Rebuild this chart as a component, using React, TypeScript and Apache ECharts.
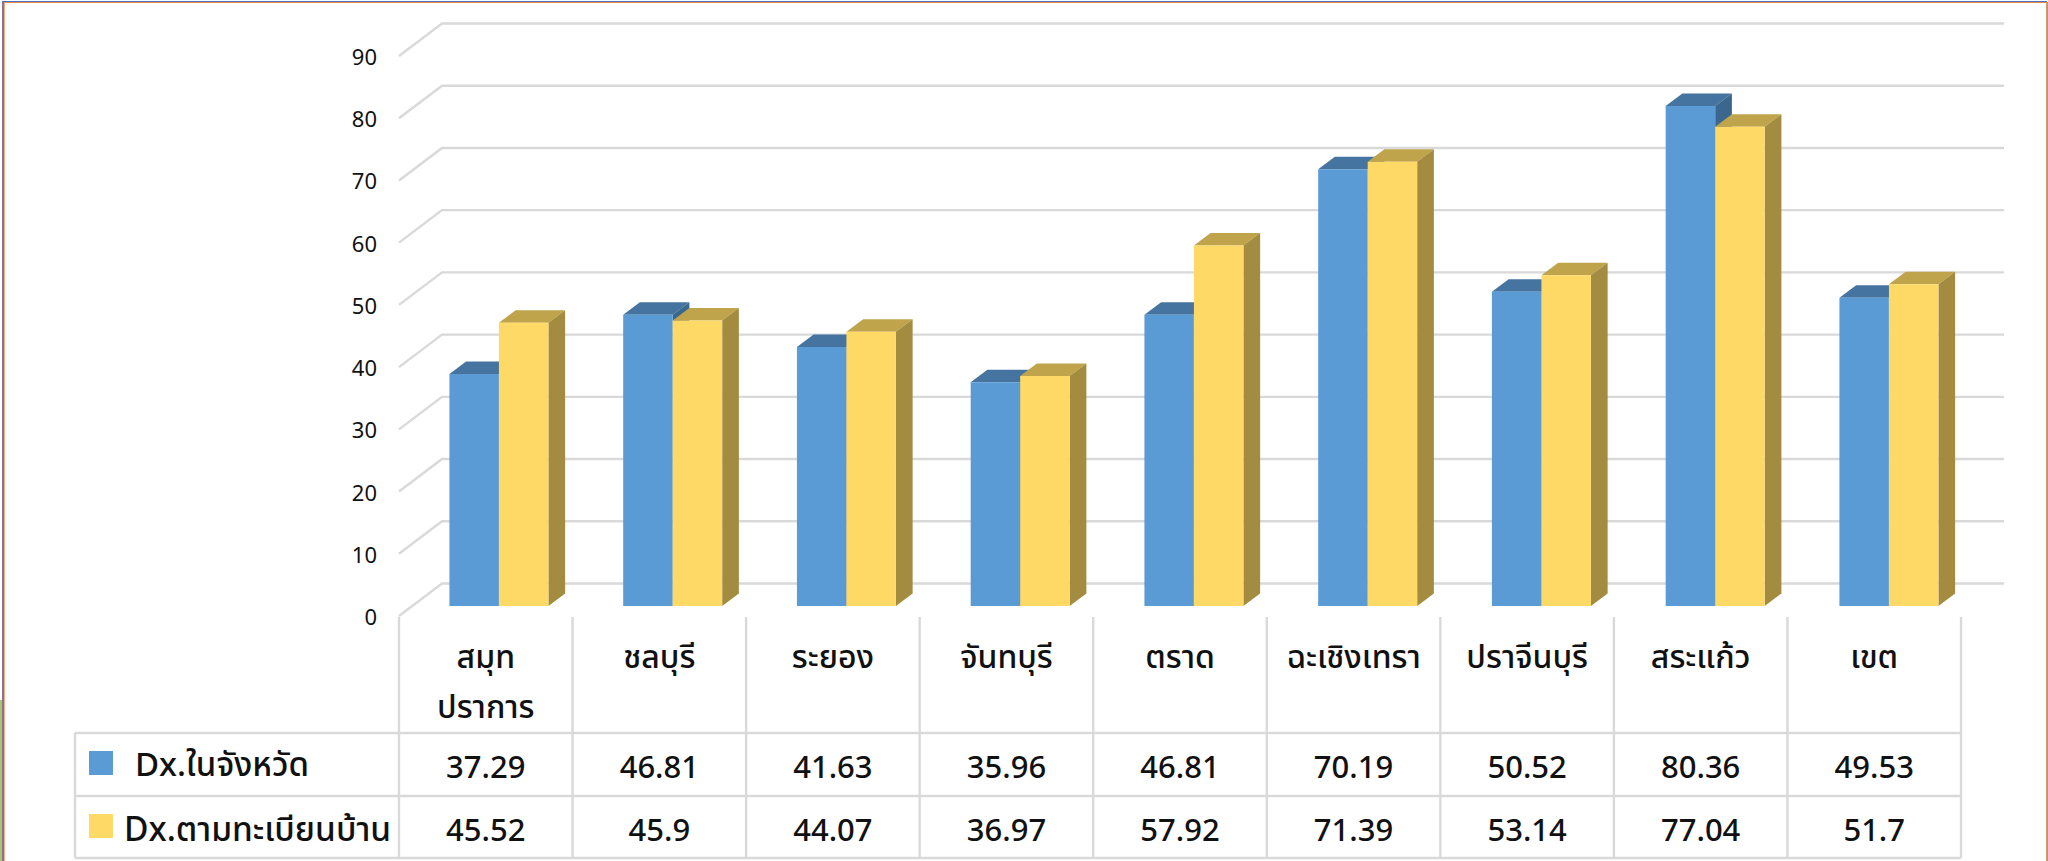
import React, { useEffect, useRef } from "react";
import * as echarts from "echarts";

const categories = ["สมุท\nปราการ", "ชลบุรี", "ระยอง", "จันทบุรี", "ตราด", "ฉะเชิงเทรา", "ปราจีนบุรี", "สระแก้ว", "เขต"];
const seriesNames = ["Dx.ในจังหวัด", "Dx.ตามทะเบียนบ้าน"];
const dxProvince = [37.29, 46.81, 41.63, 35.96, 46.81, 70.19, 50.52, 80.36, 49.53];
const dxRegistry = [45.52, 45.9, 44.07, 36.97, 57.92, 71.39, 53.14, 77.04, 51.7];
const ticks = [0, 10, 20, 30, 40, 50, 60, 70, 80, 90];

const FONT = '"Noto Sans", "Noto Sans Thai", "Liberation Sans", sans-serif';
const TEXT = "#111111";
const GRID = "#d9d9d9";
const BAR_W = 49.5;
const DX = 16.7;
const DY = 12.5;

function bar3d(offsetSign: number, top: string, side: string) {
  return (_p: any, api: any) => {
    const p = api.coord([api.value(0), api.value(1)]);
    const b = api.coord([api.value(0), 0]);
    const x = offsetSign < 0 ? p[0] - BAR_W : p[0];
    const r = x + BAR_W;
    return {
      type: "group",
      children: [
        {
          type: "polygon",
          shape: { points: [[x, p[1]], [r, p[1]], [r + DX, p[1] - DY], [x + DX, p[1] - DY]] },
          style: { fill: top },
        },
        {
          type: "polygon",
          shape: { points: [[r, p[1]], [r + DX, p[1] - DY], [r + DX, b[1] - DY], [r, b[1]]] },
          style: { fill: side },
        },
      ],
    };
  };
}

export default function App() {
  const ref = useRef<HTMLDivElement>(null);
  useEffect(() => {
    const chart = echarts.init(ref.current!, undefined, { renderer: "svg" });
    const TL = 75, T0 = 399, TR = 1961, TOP = 617, R1 = 733, R2 = 796, R3 = 858;
    const step = (TR - T0) / categories.length;
    const line = (x1: number, y1: number, x2: number, y2: number) => ({
      type: "line",
      z: 1,
      shape: { x1, y1, x2, y2 },
      style: { stroke: GRID, lineWidth: 2.4 },
    });
    const tableLines: any[] = [
      line(TL, R1, TR, R1),
      line(TL, R2, TR, R2),
      line(TL, R3, TR, R3),
      line(TL, R1, TL, R3),
    ];
    for (let i = 0; i <= categories.length; i++) {
      tableLines.push(line(T0 + step * i, TOP, T0 + step * i, R3));
    }
    chart.setOption({
      animation: false,
      backgroundColor: "#ffffff",
      textStyle: { fontFamily: FONT },
      grid: [
        { left: T0, top: 56, width: TR - T0, height: 560, containLabel: false },
        { left: 412.05, top: 46, width: 1563.75, height: 560, containLabel: false },
      ],
      xAxis: [
        {
          type: "category",
          gridIndex: 0,
          data: categories,
          axisLine: { show: false },
          axisTick: { show: false },
          axisLabel: {
            interval: 0,
            margin: 14,
            fontSize: 32,
            fontWeight: 500,
            lineHeight: 50,
            verticalAlign: "top",
            color: TEXT,
            fontFamily: FONT,
          },
        },
        { type: "category", gridIndex: 1, data: categories, show: false },
      ],
      yAxis: [
        {
          type: "value",
          gridIndex: 0,
          min: 0,
          max: 90,
          interval: 10,
          axisLine: { show: false },
          axisTick: { show: false },
          splitLine: { show: false },
          axisLabel: { margin: 22, fontSize: 22, color: TEXT, fontFamily: FONT },
        },
        { type: "value", gridIndex: 1, min: 0, max: 90, interval: 10, show: false },
      ],
      graphic: [
        ...tableLines,
        { type: "rect", z: 5, shape: { x: 89, y: 751, width: 24, height: 24 }, style: { fill: "#5B9BD5" } },
        { type: "rect", z: 5, shape: { x: 89, y: 814, width: 24, height: 24 }, style: { fill: "#FFD966" } },
        {
          type: "text", z: 5, x: 135, y: 763,
          style: { text: seriesNames[0], font: `500 33px ${FONT}`, fill: TEXT, verticalAlign: "middle" },
        },
        {
          type: "text", z: 5, x: 124, y: 828,
          style: { text: seriesNames[1], font: `500 33.5px ${FONT}`, fill: TEXT, verticalAlign: "middle" },
        },
        // window frame
        { type: "rect", z: 6, shape: { x: 2, y: 1, width: 2045, height: 1 }, style: { fill: "#4472C4" } },
        { type: "rect", z: 6, shape: { x: 4, y: 2, width: 2042, height: 1 }, style: { fill: "#ED8B45" } },
        { type: "rect", z: 6, shape: { x: 2, y: 2, width: 2, height: 859 }, style: { fill: "#8A7196" } },
        { type: "rect", z: 6, shape: { x: 4, y: 3, width: 1, height: 858 }, style: { fill: "#F4B183" } },
        { type: "rect", z: 6, shape: { x: 0, y: 700, width: 2, height: 161 }, style: { fill: "#A9C574" } },
        { type: "rect", z: 6, shape: { x: 2046, y: 2, width: 1, height: 859 }, style: { fill: "#D69A70" } },
        { type: "rect", z: 6, shape: { x: 2047, y: 2, width: 1, height: 859 }, style: { fill: "#9E9E9E" } },
      ],
      series: [
        {
          name: "gridlines",
          type: "custom",
          xAxisIndex: 0,
          yAxisIndex: 0,
          z: 1,
          silent: true,
          data: ticks.map((t) => [0, t]),
          encode: { x: 0, y: 1 },
          renderItem: (_p: any, api: any) => {
            const c = api.coord([0, api.value(1)]);
            const y = c[1];
            return {
              type: "polyline",
              shape: { points: [[T0, y], [T0 + 43, y - 32.5], [2004, y - 32.5]] },
              style: { fill: "none", stroke: GRID, lineWidth: 2.4 },
            };
          },
        },
        {
          name: seriesNames[0] + " 3D",
          type: "custom",
          xAxisIndex: 1,
          yAxisIndex: 1,
          z: 2,
          silent: true,
          data: dxProvince.map((v, i) => [i, v]),
          encode: { x: 0, y: 1 },
          renderItem: bar3d(-1, "#44749F", "#3B678E"),
        },
        {
          name: seriesNames[0],
          type: "bar",
          xAxisIndex: 1,
          yAxisIndex: 1,
          z: 3,
          barWidth: BAR_W,
          barGap: 0,
          data: dxProvince,
          itemStyle: { color: "#5B9BD5" },
        },
        {
          name: seriesNames[1] + " 3D",
          type: "custom",
          xAxisIndex: 1,
          yAxisIndex: 1,
          z: 4,
          silent: true,
          data: dxRegistry.map((v, i) => [i, v]),
          encode: { x: 0, y: 1 },
          renderItem: bar3d(1, "#BFA44C", "#A38B40"),
        },
        {
          name: seriesNames[1],
          type: "bar",
          xAxisIndex: 1,
          yAxisIndex: 1,
          z: 5,
          barWidth: BAR_W,
          barGap: 0,
          data: dxRegistry,
          itemStyle: { color: "#FFD966" },
        },
        {
          name: "table",
          type: "custom",
          xAxisIndex: 0,
          yAxisIndex: 0,
          z: 6,
          silent: true,
          data: dxProvince.map((v, i) => [i, v, dxRegistry[i]]),
          encode: { x: 0, y: 1 },
          renderItem: (_p: any, api: any) => {
            const x = api.coord([api.value(0), 0])[0];
            const cell = (y: number, v: number) => ({
              type: "text",
              x,
              y,
              style: {
                text: String(v),
                font: `500 31px ${FONT}`,
                fill: TEXT,
                align: "center",
                verticalAlign: "middle",
              },
            });
            return { type: "group", children: [cell(765.5, api.value(1)), cell(829, api.value(2))] };
          },
        },
      ],
    });
    return () => chart.dispose();
  }, []);
  return (
    <div
      ref={ref}
      style={{ position: "fixed", left: 0, top: 0, width: 2048, height: 861, overflow: "hidden" }}
    />
  );
}
